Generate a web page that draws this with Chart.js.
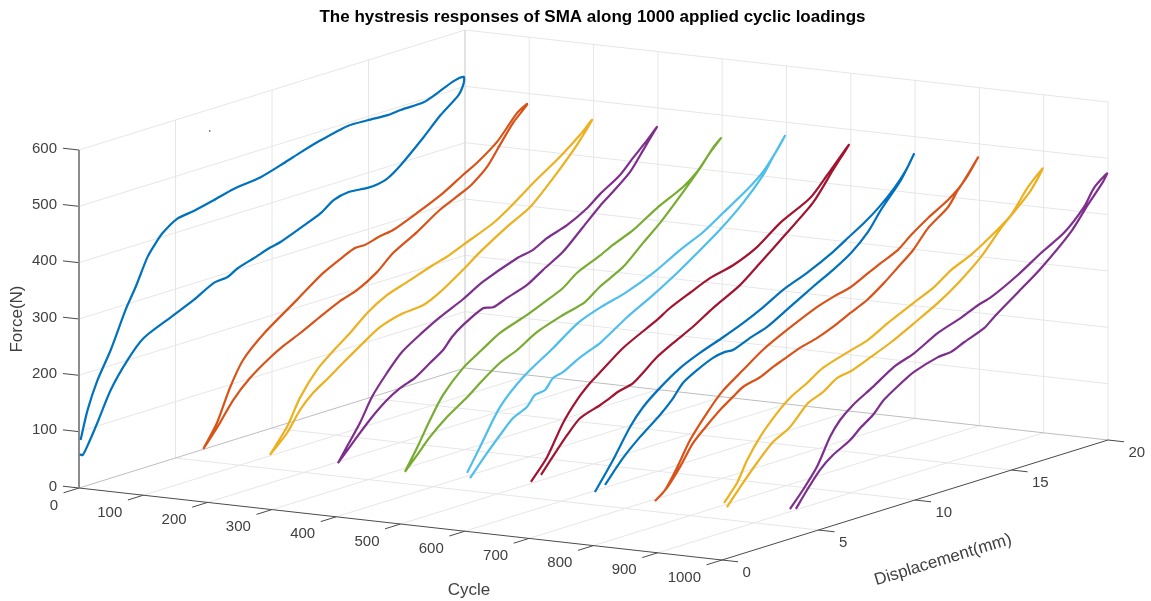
<!DOCTYPE html>
<html><head><meta charset="utf-8">
<style>html,body{margin:0;padding:0;background:#fff}canvas{display:block}</style>
<script src="https://cdn.jsdelivr.net/npm/chart.js@4/dist/chart.umd.js"></script>
</head><body><canvas id="c" width="1151" height="601"></canvas>
<script>
const chartTitle = 'The hystresis responses of SMA along 1000 applied cyclic loadings';
const forceTicks = [0,100,200,300,400,500,600];
const cycleTicks = [0,100,200,300,400,500,600,700,800,900,1000];
const dispTicks = [0,5,10,15,20];
const cycles = [1,100,200,300,400,500,600,700,800,900,1000];
const colors = ['#0072BD','#D95319','#EDB120','#7E2F8E','#77AC30','#4DBEEE','#A2142F','#0072BD','#D95319','#EDB120','#7E2F8E'];

const disp0 = [.05,.41,.93,1.61,2.38,2.9,3.52,3.94,4.3,5.03,5.91,6.94,7.98,9.38,10.57,11.45,12.33,13.89,14.92,15.96,16.63,17.82,18.55,19.38,19.9,19.9,19.64,18.7,17.82,16.63,15.96,15.44,14.92,13.94,13.16,12.49,11.45,10.41,9.9,9.02,8.19,7.67,6.94,5.91,4.87,3.32,2.49,1.61,.93,.47,.16,0];
const force0 = [85,134,182,228,291,326,373,393,407,424,429,437,446,452,464,474,483,495,494,492,494,495,504,516,518,507,489,463,433,396,380,375,374,377,371,355,340,326,322,312,303,293,290,271,255,231,201,157,107,75,57,60];
const disp1 = [3.11,3.82,4.49,5.17,6.31,7.96,9.31,10.35,10.97,11.49,12.26,12.94,14.18,15.53,16.56,17.29,18.33,19.36,19.88,19.88,19.16,18.48,17.81,17.08,16.56,15.37,14.18,12.94,12.11,11.07,10.19,9.16,8.12,7.34,6.56,5.53,4.65,3.82,3.11];
const force1 = [49,88,143,185,222,262,295,313,322,322,329,333,350,371,392,406,432,472,483,481,457,425,393,372,362,343,316,292,267,246,236,219,201,189,174,149,119,79,49];
const disp2 = [3.23,4.11,4.79,5.67,6.6,7.38,8.26,9.29,10.33,11.68,12.4,13.23,14.79,15.67,16.86,18.26,19.3,19.92,19.14,17.9,16.7,15.51,14.11,13.23,12.04,11.16,10.12,8.93,8.05,7.02,6.24,5.46,4.79,4.11,3.23];
const force2 = [50,90,135,175,202,222,248,269,281,297,304,316,338,357,387,419,447,467,431,385,346,324,294,272,245,231,228,216,197,173,154,136,113,79,50];
const disp3 = [3.42,3.94,4.56,5.19,5.96,6.74,7.83,8.71,9.9,10.94,12.7,13.53,14.25,15.29,16.33,17,18.04,18.71,19.33,19.95,19.85,19.23,18.56,17.67,17,16.12,15.08,14.05,13.22,12.18,11.46,10.94,9.9,9.33,8.87,8.19,7.41,6.64,5.96,5.19,4.41,3.42];
const force3 = [46,73,105,145,179,208,232,249,268,288,311,317,330,342,361,379,402,425,445,467,462,433,402,376,358,330,297,276,258,246,237,241,222,207,189,173,155,145,131,109,82,46];
const disp4 = [3.56,4.19,4.86,5.53,6.57,7.55,8.49,9.89,10.72,11.75,12.47,13.66,14.34,15.38,16.62,17.97,18.69,19.37,19.94,19.52,18.85,17.97,16.78,15.9,14.86,13.66,12.89,11.75,10.4,9.36,8.49,7.6,6.78,5.74,4.86,4.19,3.56];
const force4 = [42,78,120,157,194,216,236,253,265,281,300,318,330,345,371,394,413,440,460,447,418,385,343,317,285,263,244,233,217,196,183,162,140,116,90,65,42];
const disp5 = [3.45,4.12,5.16,6.35,7.9,9.2,10.34,11.63,13.08,14.48,15.67,16.71,17.95,18.78,19.51,19.92,19.3,18.78,17.75,16.55,15.36,14.33,13.08,11.74,10.34,9.82,9.15,8.42,7.9,7.49,6.97,6.55,5.83,5.16,4.48,3.6];
const force5 = [54,93,153,193,228,259,274,286,306,332,351,374,402,425,456,477,446,419,381,346,317,293,267,242,211,204,194,180,175,158,155,138,126,103,78,43];
const disp6 = [3.43,4.26,5.09,5.81,6.49,7,8.2,9.96,10.63,11.67,12.7,13.9,15.14,16.33,17.89,18.77,19.9,19.08,18.04,16.69,15.3,14.26,12.86,11.82,10.79,9.96,8.72,7.94,7.37,7,5.97,5.3,4.78,3.95];
const force6 = [51,86,138,171,194,207,238,269,283,299,314,324,343,373,401,432,474,438,391,352,313,285,259,237,219,203,170,163,154,149,137,114,93,58];
const disp7 = [3.41,4.35,5.23,5.9,6.78,7.82,8.85,10.05,11.08,12.12,13.16,14.4,15.75,16.68,17.35,18.13,18.91,19.53,19.94,19.27,18.23,17.56,16.68,15.75,14.71,13.52,12.33,11.45,10.56,10.15,9.53,8.7,7.97,7.4,6.78,5.75,4.87,3.93];
const force7 = [46,93,142,170,195,219,235,250,264,281,301,318,341,361,375,395,420,446,470,431,389,357,329,309,290,267,244,234,222,223,219,206,191,167,147,119,91,53];
const disp8 = [3.19,3.71,4.33,5.01,5.89,6.66,7.75,8.79,10.03,11.58,12.41,13.34,14.23,14.9,15.78,16.46,17.34,18.37,19.05,19.93,19.41,18.89,18.37,17.34,16.56,15.78,15.06,14.18,13.3,12.41,11.58,10.7,9.82,9.31,8.63,7.75,7.23,6.56,5.89,5.16,4.49,3.81,3.19];
const force8 = [45,59,92,134,173,202,229,254,276,300,309,317,332,343,357,376,397,418,437,477,451,430,405,379,348,326,306,285,271,256,245,237,225,218,207,199,187,171,151,127,92,62,45];
const disp9 = [3.44,4.11,4.63,5.3,6.18,6.85,7.74,8.56,10.02,10.9,11.93,13.23,14.32,15.2,16.23,17.43,18.31,19.19,19.96,19.34,18.67,17.79,16.75,15.56,14.52,13.28,12.09,11.05,10.02,9.29,8.56,7.79,6.85,5.97,5.15,4.42,3.59];
const force9 = [52,80,115,149,182,202,219,237,253,262,281,302,319,340,356,382,405,445,470,438,415,387,347,313,289,266,245,230,216,211,194,183,150,133,105,77,43];
const disp10 = [3.52,4.2,4.92,5.6,6.11,6.79,7.82,8.91,9.95,11.19,12.38,13.26,13.94,15.34,16.53,17.72,18.76,19.27,19.95,19.74,18.96,18.08,16.53,15.34,14.09,13.58,12.54,11.87,11.19,9.95,9.27,8.39,7.82,7.2,6.63,5.75,5.08,4.4,3.83];
const force10 = [53,80,113,159,183,203,224,248,261,284,298,311,318,343,369,392,427,455,474,461,429,390,342,312,281,267,253,243,241,228,215,195,174,159,142,125,106,77,50];
const strayCycle = [1], strayDisp = [6.74], strayForce = [562];

const curveDisp = [disp0,disp1,disp2,disp3,disp4,disp5,disp6,disp7,disp8,disp9,disp10];
const curveForce = [force0,force1,force2,force3,force4,force5,force6,force7,force8,force9,force10];

// orthographic view of the 3-D axes box
function project(c,d,f){
  return {x:79+0.643*c+19.3*d, y:488+0.072*c-6*d-0.5633*f};
}
const CM=1000, DM=20, FM=600;
const GRID='#e6e6e6', EDGE='#bdbdbd', AXIS='#4a4a4a', ZAX='#8c8c8c';
const seg=(label,a,b,color,w,order)=>({label,data:[project(...a),project(...b)],borderColor:color,borderWidth:w,pointRadius:0,showLine:true,tension:0,order,clip:false,fill:false});
const datasets=[];
cycleTicks.slice(1,-1).forEach(c=>{
  datasets.push(seg('grid',[c,0,0],[c,DM,0],GRID,1,100));
  datasets.push(seg('grid',[c,DM,0],[c,DM,FM],GRID,1,100));
});
datasets.push(seg('grid',[CM,DM,0],[CM,DM,FM],GRID,1,100));
dispTicks.slice(1,-1).forEach(d=>{
  datasets.push(seg('grid',[0,d,0],[CM,d,0],GRID,1,100));
  datasets.push(seg('grid',[0,d,0],[0,d,FM],GRID,1,100));
});
datasets.push(seg('grid',[0,DM,0],[0,DM,FM],'#dadada',1.5,100));
forceTicks.slice(1).forEach(f=>{
  datasets.push(seg('grid',[0,0,f],[0,DM,f],GRID,1,100));
  datasets.push(seg('grid',[0,DM,f],[CM,DM,f],GRID,1,100));
});
datasets.push(seg('edge',[0,0,0],[0,DM,0],EDGE,1,90));
datasets.push(seg('edge',[0,DM,0],[CM,DM,0],EDGE,1,90));
datasets.push(seg('axis',[0,0,0],[CM,0,0],AXIS,1,80));
datasets.push(seg('axis',[CM,0,0],[CM,DM,0],AXIS,1,80));
datasets.push(seg('axis',[0,0,0],[0,0,FM],ZAX,2,80));
forceTicks.forEach(f=>datasets.push(seg('tick',[0,0,f],[-25,0,f],AXIS,1,80)));
cycleTicks.forEach(c=>datasets.push(seg('tick',[c,0,0],[c,-0.8,0],AXIS,1,80)));
dispTicks.forEach(d=>datasets.push(seg('tick',[CM,d,0],[CM+25,d,0],AXIS,1,80)));
cycles.forEach((c,i)=>{
  datasets.push({label:'Cycle '+c,data:curveDisp[i].map((d,j)=>project(c,d,curveForce[i][j])),
    borderColor:colors[i],borderWidth:2.2,pointRadius:0,showLine:true,tension:0.25,order:20-i,clip:false,fill:false});
});
datasets.push({label:'stray',data:strayCycle.map((c,i)=>project(c,strayDisp[i],strayForce[i])),pointRadius:0.7,pointBackgroundColor:'#222',pointBorderWidth:0,showLine:false,order:5});

const labels3d={id:'labels3d',afterDatasetsDraw(ch){
  const g=ch.ctx,xs=ch.scales.x,ys=ch.scales.y;
  const P=(c,d,f)=>{const p=project(c,d,f);return {x:xs.getPixelForValue(p.x),y:ys.getPixelForValue(p.y)}};
  g.save();g.fillStyle='#404040';g.font='15px "Liberation Sans"';g.textBaseline='middle';
  g.textAlign='right';
  forceTicks.forEach(f=>{const p=P(0,0,f);g.fillText(String(f),p.x-22,p.y-1.5)});
  cycleTicks.forEach(c=>{const p=P(c,0,0);g.fillText(String(c),p.x-21,p.y+17.5)});
  g.textAlign='left';
  dispTicks.forEach(d=>{const p=P(CM,d,0);g.fillText(String(d),p.x+20.5,p.y+13)});
  g.font='17px "Liberation Sans"';g.textAlign='center';
  g.fillText('Cycle',469,590.5);
  g.save();g.translate(17,319);g.rotate(-Math.PI/2);g.fillText('Force(N)',0,0);g.restore();
  g.save();g.translate(943,560);g.rotate(-17*Math.PI/180);g.fillText('Displacement(mm)',0,0);g.restore();
  g.restore();
}};
new Chart(document.getElementById('c'),{type:'scatter',data:{datasets},plugins:[labels3d],options:{
  responsive:false,animation:false,events:[],
  layout:{autoPadding:false,padding:{left:34,right:0,top:0,bottom:0}},
  plugins:{legend:{display:false},tooltip:{enabled:false},
    title:{display:true,text:chartTitle,color:'#000',font:{family:'"Liberation Sans"',size:17,weight:'bold',lineHeight:20/17},padding:{top:7,bottom:0}}},
  scales:{x:{type:'linear',display:false,min:34,max:1151},y:{type:'linear',display:false,min:27,max:601,reverse:true}}
}});
</script></body></html>
